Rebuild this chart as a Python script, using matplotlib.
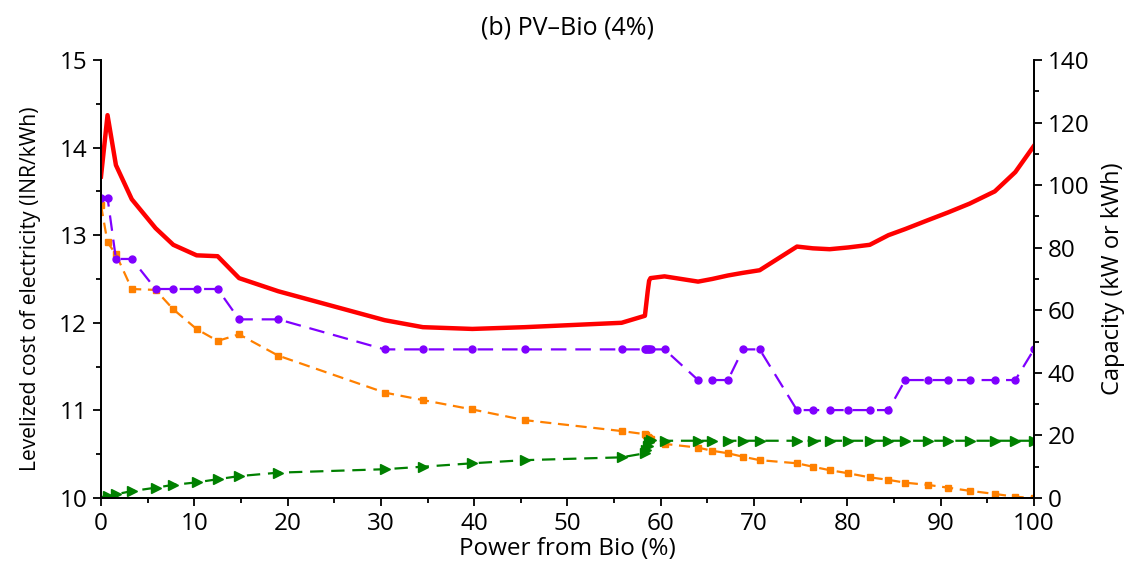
import matplotlib
matplotlib.use("Agg")
import matplotlib.pyplot as plt
from matplotlib.ticker import MultipleLocator

plt.rcParams["font.family"] = ["Open Sans", "DejaVu Sans"]

# share of power from bio (%), common to every series
bio_pct = [0, 0.7, 1.6, 3.3, 5.85, 7.75, 10.25, 12.5, 14.8, 19.0,
           30.4, 34.5, 39.8, 45.4, 55.8, 58.3, 58.45, 58.6, 58.75, 58.9,
           60.4, 64.0, 65.5, 67.2, 68.8, 70.6, 74.6, 76.3, 78.1, 80.1,
           82.4, 84.4, 86.2, 88.6, 90.8, 93.1, 95.8, 98.0, 100]

# levelized cost of electricity, INR/kWh (left axis)
lcoe = [13.67, 14.37, 13.80, 13.41, 13.08, 12.89, 12.77, 12.76, 12.51, 12.36,
        12.03, 11.95, 11.93, 11.95, 12.00, 12.08, 12.22, 12.36, 12.48, 12.51,
        12.53, 12.47, 12.50, 12.54, 12.57, 12.60, 12.87, 12.85, 12.84, 12.86,
        12.89, 13.00, 13.07, 13.17, 13.26, 13.36, 13.50, 13.72, 14.02]

# capacities, kW or kWh (right axis)
cap_purple = [96.0, 96.0, 76.4, 76.4, 66.8, 66.8, 66.8, 66.8, 57.1, 57.1,
              47.5, 47.5, 47.5, 47.5, 47.5, 47.5, 47.5, 47.5, 47.5, 47.5,
              47.5, 37.7, 37.7, 37.7, 47.5, 47.5, 28.1, 28.1, 28.1, 28.1,
              28.1, 28.1, 37.7, 37.7, 37.7, 37.7, 37.7, 37.7, 47.5]

cap_orange = [93.6, 81.7, 77.9, 66.8, 66.5, 60.3, 54.0, 50.2, 52.3, 45.5,
              33.7, 31.3, 28.3, 24.9, 21.4, 20.4, 20.0, 19.6, 19.2, 18.8,
              17.3, 16.1, 15.1, 14.3, 13.2, 12.1, 11.1, 10.0, 8.9, 7.9,
              6.6, 5.8, 4.9, 4.2, 3.3, 2.3, 1.3, 0.4, 0.0]

cap_green = [0.0, 0.5, 1.2, 2.2, 3.3, 4.2, 5.0, 6.0, 7.0, 8.1,
             9.2, 10.0, 11.1, 12.1, 13.0, 14.3, 15.5, 16.7, 17.8, 18.4,
             18.3, 18.3, 18.3, 18.3, 18.3, 18.3, 18.3, 18.3, 18.3, 18.3,
             18.3, 18.3, 18.3, 18.3, 18.3, 18.3, 18.3, 18.3, 18.3]

fig = plt.figure(figsize=(11.31, 5.75), dpi=100)
ax = fig.add_axes([0.0893, 0.1339, 0.8249, 0.7618])
ax2 = ax.twinx()

ax2.plot(bio_pct, cap_orange, color="#FF8000", lw=1.6, dashes=(5, 3),
         marker="s", ms=4.5, zorder=2)
ax2.plot(bio_pct, cap_green, color="#008000", lw=1.6, dashes=(6, 3.5),
         marker=">", ms=6.5, zorder=2)
ax2.plot(bio_pct, cap_purple, color="#7F00FF", lw=1.6, dashes=(7, 4),
         marker="o", ms=5, zorder=3)

# red LCOE line sits on the left axis, drawn above the capacity lines
ax.set_zorder(ax2.get_zorder() + 1)
ax.patch.set_visible(False)
ax.plot(bio_pct, lcoe, color="#FF0000", lw=3.2, solid_joinstyle="round")

ax.set_xlim(0, 100)
ax.set_ylim(10, 15)
ax2.set_ylim(0, 140)

ax.xaxis.set_major_locator(MultipleLocator(10))
ax.xaxis.set_minor_locator(MultipleLocator(5))
ax.yaxis.set_major_locator(MultipleLocator(1))
ax.yaxis.set_minor_locator(MultipleLocator(0.5))
ax2.yaxis.set_major_locator(MultipleLocator(20))
ax2.yaxis.set_minor_locator(MultipleLocator(10))

for a in (ax, ax2):
    a.spines["top"].set_visible(False)
    for s in a.spines.values():
        s.set_linewidth(1.3)
    a.tick_params(which="major", direction="out", length=6, width=1.3, labelsize=17.5, pad=4)
    a.tick_params(which="minor", direction="out", length=3.5, width=1.3)

ax.set_xlabel("Power from Bio (%)", fontsize=17.5, labelpad=1)
ax.set_ylabel("Levelized cost of electricity (INR/kWh)", fontsize=15.2)
ax.yaxis.set_label_coords(-0.064, 0.477)
ax2.set_ylabel("Capacity (kW or kWh)", fontsize=17, labelpad=8)
ax.set_title("(b) PV\u2013Bio (4%)", fontsize=18, pad=18)

fig.savefig("out.png", dpi=100)
